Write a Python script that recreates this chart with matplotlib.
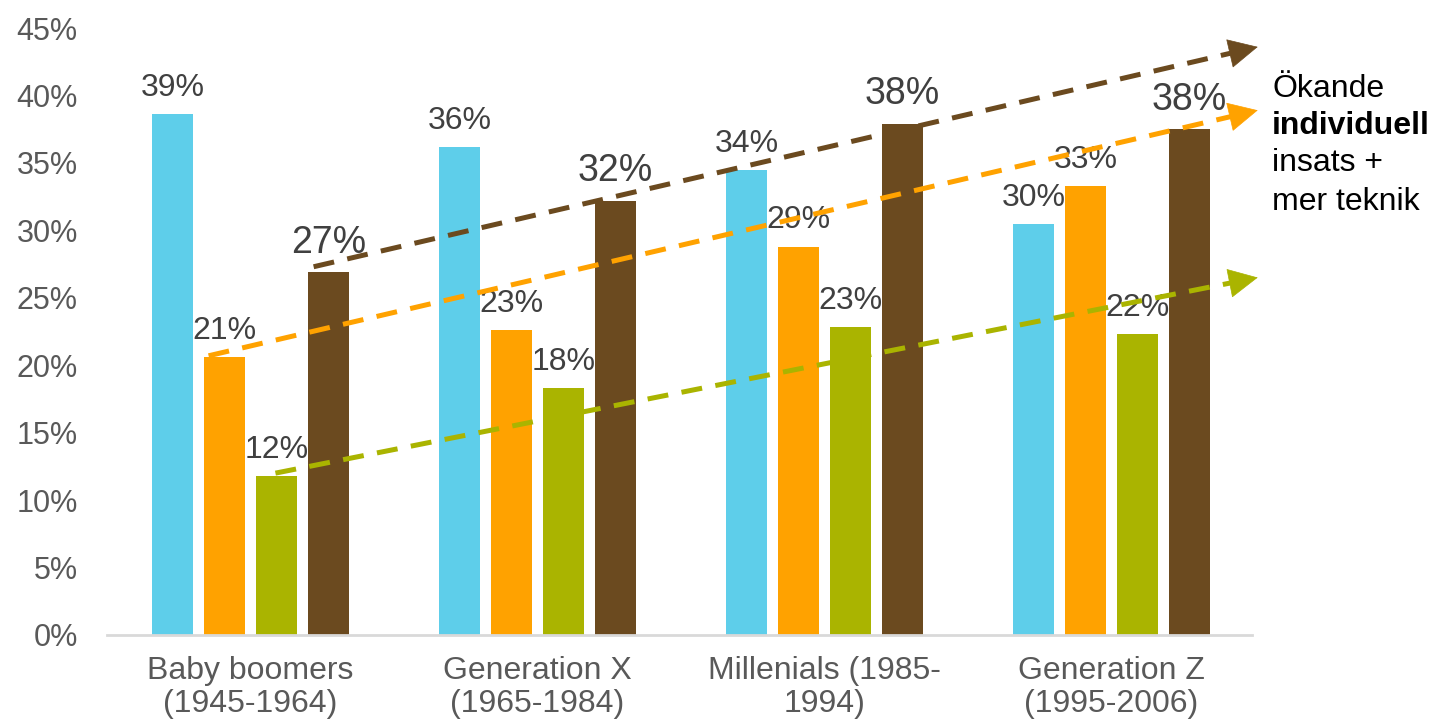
import numpy as np
import matplotlib
matplotlib.use("Agg")
import matplotlib.pyplot as plt

plt.rcParams['font.family'] = ['Liberation Sans', 'DejaVu Sans']

# Data
categories = ["Baby boomers\n(1945-1964)", "Generation X\n(1965-1984)",
              "Millenials (1985-\n1994)", "Generation Z\n(1995-2006)"]
series_values = [
    [38.6, 36.2, 34.5, 30.5],   # cyan
    [20.6, 22.6, 28.8, 33.3],   # orange
    [11.8, 18.3, 22.8, 22.3],   # green
    [26.9, 32.2, 37.9, 37.5],   # brown
]
bar_labels = [
    ["39%", "36%", "34%", "30%"],
    ["21%", "23%", "29%", "33%"],
    ["12%", "18%", "23%", "22%"],
    ["27%", "32%", "38%", "38%"],
]
colors = ["#5ECEEA", "#FFA200", "#AAB400", "#6B4A1F"]
yticks = [0, 5, 10, 15, 20, 25, 30, 35, 40, 45]
ytick_labels = [f"{v}%" for v in yticks]

# trend arrows: (x0, y0) -> (x1, y1) in data units
arrows = [
    ((0.22, 27.3), (3.51, 43.6), "#6B4A1F"),
    ((-0.146, 20.7), (3.51, 38.9), "#FFA200"),
    ((0.087, 12.0), (3.51, 26.5), "#AAB400"),
]

fig = plt.figure(figsize=(14.35, 7.26), dpi=100)
ax = fig.add_axes([107 / 1435, 1 - 635 / 726, (1252 - 107) / 1435, (635 - 28) / 726])

x = np.arange(len(categories))
width = 0.143
step = 0.181
for i, vals in enumerate(series_values):
    pos = x + (i - 1.5) * step
    ax.bar(pos, vals, width=width, color=colors[i], zorder=2)
    big = (i == 3)
    for px, v, lab in zip(pos, vals, bar_labels[i]):
        ax.annotate(lab, (px, v), xytext=(0, 14 if big else 13), textcoords='offset points',
                    ha='center', va='baseline', fontsize=27 if big else 23,
                    color='#404040', zorder=3)

for (x0, y0), (x1, y1), c in arrows:
    dx, dy = x1 - x0, y1 - y0
    ax.plot([x0, x1 - dx * 0.01], [y0, y1 - dy * 0.01], color=c, lw=3.6,
            dashes=(4.2, 2.7), clip_on=False, zorder=4)
    ax.annotate('', xy=(x1, y1), xytext=(x1 - dx * 0.02, y1 - dy * 0.02),
                arrowprops=dict(arrowstyle='-|>,head_length=1.0,head_width=0.5',
                                color=c, lw=0.5, shrinkA=0, shrinkB=0, mutation_scale=20),
                annotation_clip=False, zorder=5)

ax.set_xlim(-0.5, 3.49)
ax.set_ylim(0, 45)
ax.set_yticks(yticks)
ax.set_yticklabels(ytick_labels)
ax.set_xticks(x)
ax.set_xticklabels(categories, linespacing=1.15)
ax.tick_params(axis='y', length=0, pad=21, labelsize=22, labelcolor='#595959')
ax.tick_params(axis='x', length=0, pad=15, labelsize=23, labelcolor='#595959')
for s in ['top', 'right', 'left']:
    ax.spines[s].set_visible(False)
ax.spines['bottom'].set_color('#D9D9D9')
ax.spines['bottom'].set_linewidth(2)

# side note
fig.text(1272 / 1435, 1 - 97 / 726, "Ökande", fontsize=23, va='baseline', color='black')
fig.text(1272 / 1435, 1 - 134 / 726, "individuell", fontsize=23, va='baseline',
         color='black', fontweight='bold')
fig.text(1272 / 1435, 1 - 171 / 726, "insats +", fontsize=23, va='baseline', color='black')
fig.text(1272 / 1435, 1 - 210 / 726, "mer teknik", fontsize=23, va='baseline', color='black')

fig.savefig("out.png", dpi=100)
